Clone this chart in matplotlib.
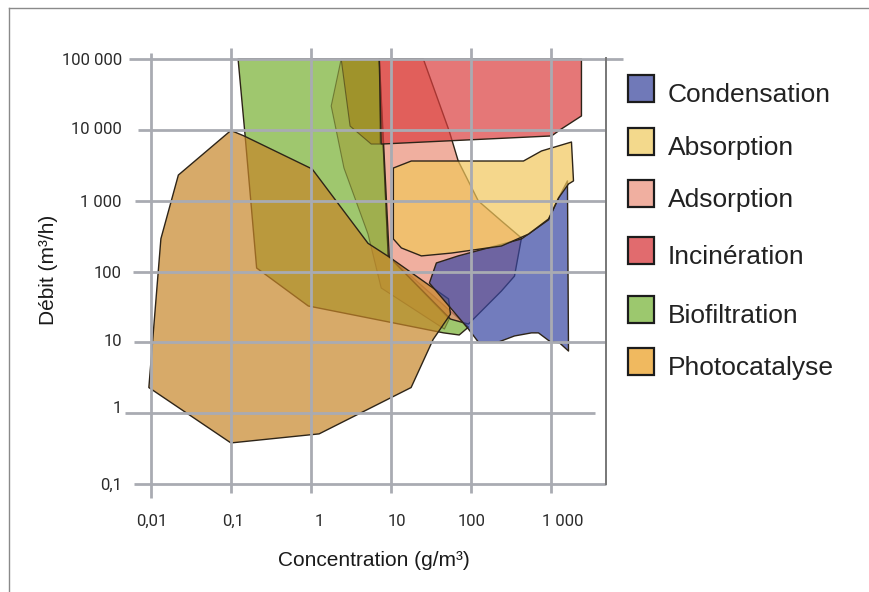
import matplotlib
matplotlib.use("Agg")
import matplotlib.pyplot as plt
from matplotlib.patches import Polygon, Rectangle
from matplotlib.lines import Line2D

# ---------------- data : concentration (g/m3) , débit (m3/h) ----------------
condensation_x = [30.5, 37.3, 70, 433, 944, 1260, 1630, 1680, 1300, 971, 707, 578, 354, 223, 125, 94]
condensation_y = [68.8, 132, 166, 288, 536, 1090, 1900, 7.54, 9.8, 10.4, 13.6, 13.6, 12.3, 10.1, 10.1, 15.4]

absorption_x = [10.8, 18.1, 459, 771, 1830, 1940, 1680, 1260, 944, 530, 243, 57.4, 24.2, 13.6, 10.8]
absorption_y = [2890, 3630, 3630, 5030, 6730, 1900, 1720, 1090, 551, 337, 229, 182, 166, 215, 288]

adsorption_x = [7.2, 25.6, 54, 70, 125, 243, 433, 354, 243, 94, 56, 9.6]
adsorption_y = [100000, 100000, 9600, 3630, 989, 517, 297, 86, 53, 18.1, 21.3, 160]

incineration_x = [7.2, 2440, 2440, 1370, 1030, 7.6]
incineration_y = [100000, 100000, 15700, 10300, 8200, 6300]

biofiltration_x = [0.123, 7.2, 9.3, 94, 72, 46, 0.93, 0.21, 0.15]
biofiltration_y = [100000, 100000, 166, 16.4, 12.7, 13.6, 32.6, 112, 8700]

biofiltration2_x = [2.4, 7.2, 9.3, 54, 47, 7.6, 5.2, 2.6, 1.8]
biofiltration2_y = [100000, 100000, 166, 21.3, 15.4, 58.5, 337, 2890, 21700]

photocatalyse_x = [0.10, 0.146, 1.04, 5.2, 9.6, 53, 56, 34, 18, 1.27, 0.10, 0.0094, 0.0133, 0.022]
photocatalyse_y = [9800, 8200, 2800, 250, 160, 41, 25, 11, 2.3, 0.51, 0.38, 2.3, 290, 2300]

photocatalyse2_x = [2.4, 7.2, 7.4, 5.7, 3.1]
photocatalyse2_y = [100000, 100000, 6300, 6300, 11300]

categories = ["Condensation", "Absorption", "Adsorption", "Incinération", "Biofiltration", "Photocatalyse"]

x_ticks = [0.01, 0.1, 1, 10, 100, 1000]
x_tick_labels = ["0,01", "0,1", "1", "10", "100", "1 000"]
y_ticks = [1e5, 1e4, 1e3, 100, 10, 1, 0.1]
y_tick_labels = ["100 000", "10 000", "1 000", "100", "10", "1", "0,1"]

x_label = "Concentration (g/m³)"
y_label = "Débit (m³/h)"

# ---------------- styles ----------------
def rgba(r, g, b, a):
    return (r / 255, g / 255, b / 255, a)

# (xs, ys, facecolor, edgecolor, linewidth) in drawing order
shapes = [
    (biofiltration_x, biofiltration_y, rgba(119, 176, 48, 0.7), "#2d2418", 1.0),
    (biofiltration2_x, biofiltration2_y, rgba(160, 140, 30, 0.4), rgba(70, 70, 20, 0.55), 0.8),
    (adsorption_x, adsorption_y, rgba(234, 141, 119, 0.7), "#2d2418", 1.0),
    (photocatalyse_x, photocatalyse_y, rgba(198, 134, 41, 0.7), "#2d2418", 1.0),
    (photocatalyse2_x, photocatalyse2_y, rgba(160, 120, 10, 0.5), rgba(60, 50, 20, 0.6), 0.8),
    (incineration_x, incineration_y, rgba(219, 62, 62, 0.7), "#2d2418", 1.0),
    (condensation_x, condensation_y, rgba(55, 69, 162, 0.7), "#2d2418", 1.0),
    (absorption_x, absorption_y, rgba(241, 198, 91, 0.7), "#2d2418", 1.0),
]

legend_colors = ["#7079b8", "#f3d98c", "#f0afa0", "#e16b6e", "#9cc86e", "#f0b95f"]

W, H = 869, 592
fig = plt.figure(figsize=(W / 100, H / 100), dpi=100)
fig.patch.set_facecolor("white")

def fx(px):
    return px / W

def fy(py):
    return 1 - py / H

X0, X1 = 151, 550.5   # pixel columns of 0.01 and 1000
Y0, Y1 = 59, 484      # pixel rows of 100000 and 0.1
ax = fig.add_axes([fx(X0), fy(Y1), (X1 - X0) / W, (Y1 - Y0) / H])
ax.set_xscale("log")
ax.set_yscale("log")
ax.set_xlim(0.01, 1000)
ax.set_ylim(0.1, 1e5)
ax.axis("off")

for i, (xs, ys, fc, ec, lw) in enumerate(shapes):
    poly = Polygon(list(zip(xs, ys)), closed=True, facecolor=fc, edgecolor=ec,
                   linewidth=lw, joinstyle="round", clip_on=False, zorder=2 + i * 0.1)
    ax.add_patch(poly)

def axfx(px):
    return (px - X0) / (X1 - X0)

def axfy(py):
    return (Y1 - py) / (Y1 - Y0)

grid_color = "#a9abb2"
h_start = [129, 138, 135, 133, 134, 125, 134]
h_end = [623, 606, 606, 606, 606, 595, 606]
for yv, s, e in zip(y_ticks, h_start, h_end):
    ax.plot([axfx(s), axfx(e)], [yv, yv], transform=ax.get_yaxis_transform(),
            color=grid_color, lw=2.0, clip_on=False, zorder=5, solid_capstyle="butt")
v_top = [53, 48, 48, 48, 48, 48]
v_bot = [498, 493, 493, 493, 493, 493]
for xv, t, b in zip(x_ticks, v_top, v_bot):
    ax.plot([xv, xv], [axfy(b), axfy(t)], transform=ax.get_xaxis_transform(),
            color=grid_color, lw=2.0, clip_on=False, zorder=5, solid_capstyle="butt")

# right frame line of the plot area
fig.add_artist(Line2D([fx(606), fx(606)], [fy(58), fy(484)], color="#777777", lw=1.4))
# outer border of the figure
fig.add_artist(Line2D([fx(9), fx(9)], [fy(8), 0], color="#8a8a8a", lw=1.0))
fig.add_artist(Line2D([fx(9), 1], [fy(8), fy(8)], color="#8a8a8a", lw=1.0))

tick_font = dict(family=["Roboto", "DejaVu Sans"], fontsize=12, color="#2b2b2b")
y_dy = [0, 2, 0, 0, 2, 6, 0]
for yv, lab, d in zip(y_ticks, y_tick_labels, y_dy):
    ax.annotate(lab, xy=(axfx(122), yv), xycoords=ax.get_yaxis_transform(),
                xytext=(0, -6 + d), textcoords="offset pixels",
                ha="right", va="baseline", annotation_clip=False, **tick_font)
x_dx = [1, 2, 8, 6, 1, 12]
for xv, lab, d in zip(x_ticks, x_tick_labels, x_dx):
    ax.annotate(lab, xy=(xv, axfy(526)), xycoords=ax.get_xaxis_transform(),
                xytext=(d, 0), textcoords="offset pixels",
                ha="center", va="baseline", annotation_clip=False, **tick_font)

label_font = dict(family=["Liberation Sans", "DejaVu Sans"], fontsize=15, color="#1a1a1a")
fig.text(fx(374), fy(566), x_label, ha="center", va="baseline", **label_font)
fig.text(fx(48), fy(270), y_label, ha="center", va="center", rotation=90, **label_font)

# legend
sw_top = [75, 128, 180, 237, 296, 348]
for name, col, top in zip(categories, legend_colors, sw_top):
    fig.add_artist(Rectangle((fx(628), fy(top + 27)), 26 / W, 27 / H, transform=fig.transFigure,
                             facecolor=col, edgecolor="#1c1c1c", lw=1.6))
    fig.text(fx(668), fy(top + 27), name, ha="left", va="baseline",
             family=["Liberation Sans", "DejaVu Sans"], fontsize=19, color="#222222")

fig.savefig("out.png", dpi=100)
